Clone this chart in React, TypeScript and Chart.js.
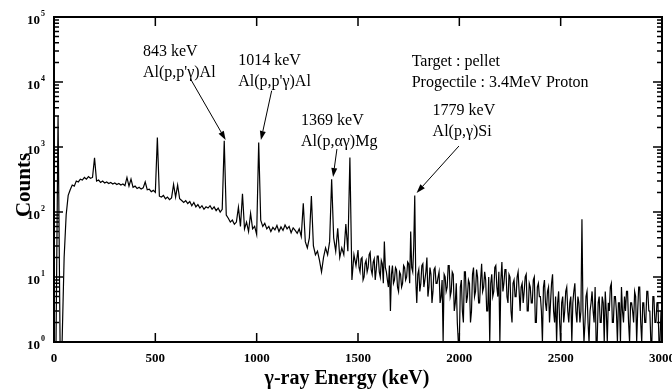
import React, { useEffect, useRef } from 'react';
import { Chart, registerables } from 'chart.js';

Chart.register(...registerables);

// Low-energy part: 10 keV per channel, 0 .. 1490 keV
const LOW_START_KEV = 0;
const LOW_BIN_KEV = 10;
const countsLow: number[] = [
  1, 1, 3000, 1, 1, 20, 90, 180, 220, 260,
  250, 300, 290, 320, 310, 340, 320, 350, 330, 340,
  680, 300, 310, 285, 300, 280, 290, 275, 285, 270,
  280, 265, 275, 260, 270, 255, 340, 250, 320, 240,
  250, 230, 240, 225, 235, 290, 220, 225, 205, 215,
  200, 1400, 175, 170, 180, 160, 170, 155, 165, 265,
  170, 260, 160, 150, 140, 150, 135, 145, 125, 140,
  120, 130, 115, 125, 110, 120, 115, 125, 110, 120,
  105, 115, 100, 110, 1250, 90, 80, 70, 75, 65,
  70, 118, 60, 190, 55, 70, 50, 95, 55, 60,
  45, 1170, 75, 60, 67, 55, 60, 50, 58, 53,
  62, 50, 59, 52, 63, 55, 60, 48, 57, 52,
  47, 55, 42, 136, 35, 28, 40, 176, 30, 22,
  25, 18, 12, 20, 28, 22, 35, 320, 40, 25,
  56, 20, 28, 22, 65, 25, 690, 9, 22, 15,
];

// High-energy part: 5 keV per channel, 1500 .. 3000 keV
const HIGH_START_KEV = 1500;
const HIGH_BIN_KEV = 5;
const countsHigh: number[] = [
  26, 14, 12, 19, 20, 9, 10, 16, 18, 12, 14, 22, 24, 13, 11, 17, 19, 9, 13, 21,
  21, 12, 10, 18, 16, 8, 35, 14, 12, 9, 7, 15, 3, 11, 15, 8, 9, 14, 13, 7,
  6, 12, 11, 7, 8, 15, 14, 9, 10, 17, 16, 8, 50, 14, 12, 30, 180, 9, 4, 11,
  13, 6, 8, 15, 16, 7, 9, 12, 20, 5, 7, 14, 11, 4, 6, 13, 14, 8, 8, 10,
  12, 4, 5, 9, 1, 11, 10, 6, 7, 15, 15, 5, 6, 12, 11, 3, 4, 8, 2, 1,
  1, 7, 9, 3, 2, 12, 12, 4, 5, 9, 8, 2, 3, 11, 14, 5, 6, 13, 10, 4,
  4, 9, 16, 6, 7, 12, 9, 3, 3, 10, 1, 8, 11, 5, 6, 14, 15, 7, 5, 12,
  1, 9, 17, 6, 8, 13, 13, 5, 4, 11, 10, 3, 2, 8, 9, 5, 5, 10, 12, 6,
  3, 7, 8, 4, 6, 10, 11, 3, 3, 8, 7, 4, 4, 9, 10, 2, 2, 7, 8, 5,
  5, 3, 1, 7, 9, 4, 3, 6, 7, 2, 4, 8, 11, 3, 2, 5, 1, 4, 6, 2,
  1, 4, 5, 2, 3, 6, 7, 3, 2, 4, 5, 1, 4, 6, 8, 3, 2, 5, 4, 2,
  3, 77, 3, 1, 2, 5, 6, 2, 1, 3, 4, 6, 3, 2, 7, 1, 1, 4, 5, 2,
  2, 5, 4, 1, 6, 3, 1, 4, 3, 7, 8, 2, 2, 5, 5, 3, 1, 4, 4, 1,
  7, 3, 2, 5, 3, 6, 6, 2, 1, 4, 4, 3, 2, 6, 5, 1, 3, 7, 7, 2,
  1, 4, 4, 2, 2, 6, 6, 3, 3, 1, 1, 5, 5, 2, 2, 4, 4, 1, 1, 3,
  3,
];

const xTickValues = [0, 500, 1000, 1500, 2000, 2500, 3000];
const yDecadeExponents = [0, 1, 2, 3, 4, 5];

const xTitle = 'γ-ray Energy (keV)';
const yTitle = 'Counts';

// Peak annotations in data coordinates (keV, counts)
const peakNotes = [
  { lines: ['843 keV', "Al(p,p'γ)Al"], textAt: [439, 25100], from: [674, 11100], to: [847, 1280] },
  { lines: ['1014 keV', "Al(p,p'γ)Al"], textAt: [909, 18300], from: [1074, 7350], to: [1021, 1280] },
  { lines: ['1369 keV', 'Al(p,αγ)Mg'], textAt: [1219, 2180], from: [1396, 930], to: [1377, 345] },
  { lines: ['1779 keV', 'Al(p,γ)Si'], textAt: [1868, 3100], from: [1998, 1035], to: [1789, 196] },
];
const infoNote = { lines: ['Target : pellet', 'Progectile : 3.4MeV Proton'], textAt: [1765, 17600] };

const SERIF = '"Liberation Serif", "Times New Roman", serif';

const decorPlugin = {
  id: 'decor',
  afterDraw(chart: any) {
    const { ctx, chartArea: a, scales } = chart;
    const sx = scales.x;
    const sy = scales.y;
    ctx.save();
    ctx.strokeStyle = '#000';
    ctx.fillStyle = '#000';

    // inward ticks
    ctx.lineWidth = 1.5;
    ctx.beginPath();
    for (const v of xTickValues) {
      const px = sx.getPixelForValue(v);
      ctx.moveTo(px, a.bottom);
      ctx.lineTo(px, a.bottom - 9);
      ctx.moveTo(px, a.top);
      ctx.lineTo(px, a.top + 9);
    }
    for (const e of yDecadeExponents) {
      for (let m = 1; m <= 9; m++) {
        const v = m * Math.pow(10, e);
        if (v > 1e5) break;
        const py = sy.getPixelForValue(v);
        const len = m === 1 ? 9 : 5;
        ctx.moveTo(a.left, py);
        ctx.lineTo(a.left + len, py);
        ctx.moveTo(a.right, py);
        ctx.lineTo(a.right - len, py);
      }
    }
    ctx.stroke();

    // frame
    ctx.lineWidth = 2;
    ctx.strokeRect(a.left, a.top, a.right - a.left, a.bottom - a.top);

    // y tick labels 10^n
    for (const e of yDecadeExponents) {
      const py = sy.getPixelForValue(Math.pow(10, e));
      ctx.font = `bold 13px ${SERIF}`;
      ctx.textAlign = 'right';
      ctx.textBaseline = 'middle';
      ctx.fillText('10', 40, py + 4);
      ctx.font = `bold 8px ${SERIF}`;
      ctx.textAlign = 'left';
      ctx.fillText(String(e), 41, py - 3);
    }

    // axis titles
    ctx.font = `bold 20px ${SERIF}`;
    ctx.textAlign = 'center';
    ctx.textBaseline = 'middle';
    ctx.fillText(xTitle, 347, 379);
    ctx.save();
    ctx.translate(25, 185);
    ctx.rotate(-Math.PI / 2);
    ctx.font = `bold 21px ${SERIF}`;
    ctx.fillText(yTitle, 0, 0);
    ctx.restore();

    // annotations
    ctx.font = `16px ${SERIF}`;
    ctx.textAlign = 'left';
    ctx.textBaseline = 'alphabetic';
    const drawLines = (lines: string[], at: number[]) => {
      const x = sx.getPixelForValue(at[0]);
      const y = sy.getPixelForValue(at[1]);
      lines.forEach((t, i) => ctx.fillText(t, x, y + i * 21));
    };
    for (const n of peakNotes) {
      drawLines(n.lines, n.textAt);
      const x1 = sx.getPixelForValue(n.from[0]);
      const y1 = sy.getPixelForValue(n.from[1]);
      const x2 = sx.getPixelForValue(n.to[0]);
      const y2 = sy.getPixelForValue(n.to[1]);
      const ang = Math.atan2(y2 - y1, x2 - x1);
      const hl = 9;
      const hw = 3;
      const bx = x2 - hl * Math.cos(ang);
      const by = y2 - hl * Math.sin(ang);
      ctx.lineWidth = 1;
      ctx.beginPath();
      ctx.moveTo(x1, y1);
      ctx.lineTo(bx, by);
      ctx.stroke();
      ctx.beginPath();
      ctx.moveTo(x2, y2);
      ctx.lineTo(bx + hw * Math.sin(ang), by - hw * Math.cos(ang));
      ctx.lineTo(bx - hw * Math.sin(ang), by + hw * Math.cos(ang));
      ctx.closePath();
      ctx.fill();
    }
    drawLines(infoNote.lines, infoNote.textAt);

    ctx.restore();
  },
};

export default function App() {
  const ref = useRef<HTMLCanvasElement>(null);

  useEffect(() => {
    if (!ref.current) return;
    const points = [
      ...countsLow.map((c, i) => ({ x: LOW_START_KEV + i * LOW_BIN_KEV, y: c })),
      ...countsHigh.map((c, i) => ({ x: HIGH_START_KEV + i * HIGH_BIN_KEV, y: c })),
    ];
    const chart = new Chart(ref.current, {
      type: 'line',
      data: {
        datasets: [
          {
            data: points,
            borderColor: '#000',
            borderWidth: 1.2,
            pointRadius: 0,
            tension: 0,
            fill: false,
          },
        ],
      },
      options: {
        responsive: false,
        animation: false,
        devicePixelRatio: 1,
        layout: { padding: { top: 17, right: 10, left: 0, bottom: 0 } },
        plugins: { legend: { display: false }, tooltip: { enabled: false } },
        scales: {
          x: {
            type: 'linear',
            min: 0,
            max: 3000,
            grid: { display: false, drawTicks: false },
            border: { display: false },
            ticks: {
              stepSize: 500,
              autoSkip: false,
              maxRotation: 0,
              color: '#000',
              padding: 9,
              font: { family: SERIF, size: 13, weight: 'bold' },
              callback: (v: any) => String(v),
            },
            afterFit: (s: any) => {
              s.height = 50;
              s.paddingLeft = 0;
              s.paddingRight = 0;
            },
          },
          y: {
            type: 'logarithmic',
            min: 1,
            max: 100000,
            grid: { display: false, drawTicks: false },
            border: { display: false },
            ticks: { display: false },
            afterFit: (s: any) => {
              s.width = 54;
              s.paddingTop = 0;
              s.paddingBottom = 0;
            },
          },
        },
      },
      plugins: [decorPlugin],
    } as any);
    return () => chart.destroy();
  }, []);

  return (
    <div style={{ position: 'absolute', left: 0, top: 0, width: 672, height: 392, background: '#fff' }}>
      <canvas ref={ref} width={672} height={392} style={{ display: 'block' }} />
    </div>
  );
}
